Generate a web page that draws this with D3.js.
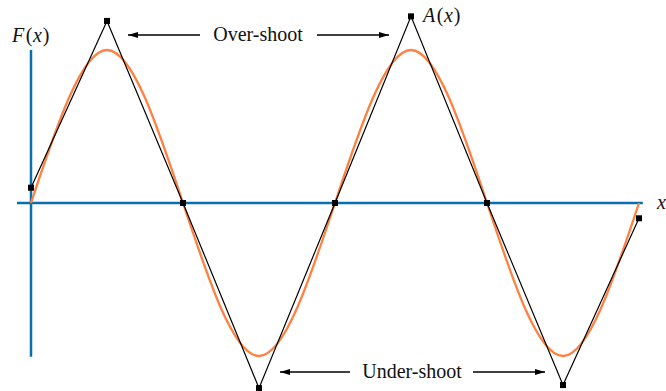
<!DOCTYPE html>
<html>
<head>
<meta charset="utf-8">
<script src="https://cdn.jsdelivr.net/npm/d3@7"></script>
<style>
  html, body { margin: 0; padding: 0; background: #fff; }
  svg { display: block; }
  text { font-family: "Liberation Serif", "Times New Roman", serif; fill: #111; }
</style>
</head>
<body>
<svg id="chart" width="666" height="391"></svg>
<script>
// Sample positions in quarter-periods of the wave
const samples = [0, 1, 2, 3, 4, 5, 6, 7, 8];
// Smooth function F(x): zeros and extrema
const fValues = [0, 1, 0, -1, 0, 1, 0, -1, 0];
// Piecewise-linear approximation A(x)
const aValues = [0.1, 1.19, 0, -1.21, 0, 1.22, 0, -1.19, -0.1];
// Annotation labels
const callouts = ["Over-shoot", "Under-shoot"];

const svg = d3.select("#chart");
const x = d3.scaleLinear().domain([0, 8]).range([31, 639]);
const y = d3.scaleLinear().domain([-1, 1]).range([356, 50]);

const blue = "#0a6fad";
const orange = "#ff8040";

// Arrow marker
svg.append("defs").append("marker")
  .attr("id", "arrow")
  .attr("viewBox", "0 0 10 6")
  .attr("refX", 10).attr("refY", 3)
  .attr("markerWidth", 10).attr("markerHeight", 6)
  .attr("markerUnits", "userSpaceOnUse")
  .attr("orient", "auto")
  .append("path").attr("d", "M0,0 L10,3 L0,6 Z").attr("fill", "#000");

// Axes
svg.append("line")
  .attr("x1", x(-0.185)).attr("x2", x(8.05))
  .attr("y1", y(0)).attr("y2", y(0))
  .attr("stroke", blue).attr("stroke-width", 2.5);
svg.append("line")
  .attr("x1", x(0)).attr("x2", x(0))
  .attr("y1", y(1)).attr("y2", y(-1.005))
  .attr("stroke", blue).attr("stroke-width", 2.5);

// Smooth curve F(x)
const fLine = d3.line()
  .x((d, i) => x(samples[i]))
  .y(d => y(d))
  .curve(d3.curveNatural);
svg.append("path")
  .attr("d", fLine(fValues))
  .attr("fill", "none").attr("stroke", orange).attr("stroke-width", 2.3);

// Piecewise-linear A(x)
const aLine = d3.line()
  .x((d, i) => x(samples[i]))
  .y(d => y(d));
svg.append("path")
  .attr("d", aLine(aValues))
  .attr("fill", "none").attr("stroke", "#000").attr("stroke-width", 1.2);

svg.selectAll("rect.node")
  .data(aValues)
  .join("rect")
  .attr("class", "node")
  .attr("x", (d, i) => x(samples[i]) - 3)
  .attr("y", d => y(d) - 3)
  .attr("width", 6).attr("height", 6)
  .attr("fill", "#000");

// Function-style labels: italic letters, upright parentheses
function funcLabel(name, px, py) {
  const t = svg.append("text").attr("x", px).attr("y", py).attr("font-size", 20);
  t.append("tspan").attr("font-style", "italic").text(name);
  t.append("tspan").attr("dx", 1.5).text("(");
  t.append("tspan").attr("dx", 0.5).attr("font-style", "italic").text("x");
  t.append("tspan").attr("dx", 1).text(")");
}
funcLabel("F", 12, 42);
funcLabel("A", 423, 22);

svg.append("text").attr("x", 657).attr("y", 209).attr("font-size", 20)
  .attr("font-style", "italic").text("x");

// Callouts with arrows
function callout(label, cx, cy, leftFrom, leftTo, rightFrom, rightTo) {
  svg.append("text").attr("x", cx).attr("y", cy + 6)
    .attr("text-anchor", "middle").attr("font-size", 20).text(label);
  svg.append("line").attr("x1", leftFrom).attr("x2", leftTo)
    .attr("y1", cy).attr("y2", cy)
    .attr("stroke", "#000").attr("stroke-width", 1.3).attr("marker-end", "url(#arrow)");
  svg.append("line").attr("x1", rightFrom).attr("x2", rightTo)
    .attr("y1", cy).attr("y2", cy)
    .attr("stroke", "#000").attr("stroke-width", 1.3).attr("marker-end", "url(#arrow)");
}
callout(callouts[0], 258, 35, 200, 128, 317, 389);
callout(callouts[1], 412, 372, 350, 280, 473, 545);
</script>
</body>
</html>
